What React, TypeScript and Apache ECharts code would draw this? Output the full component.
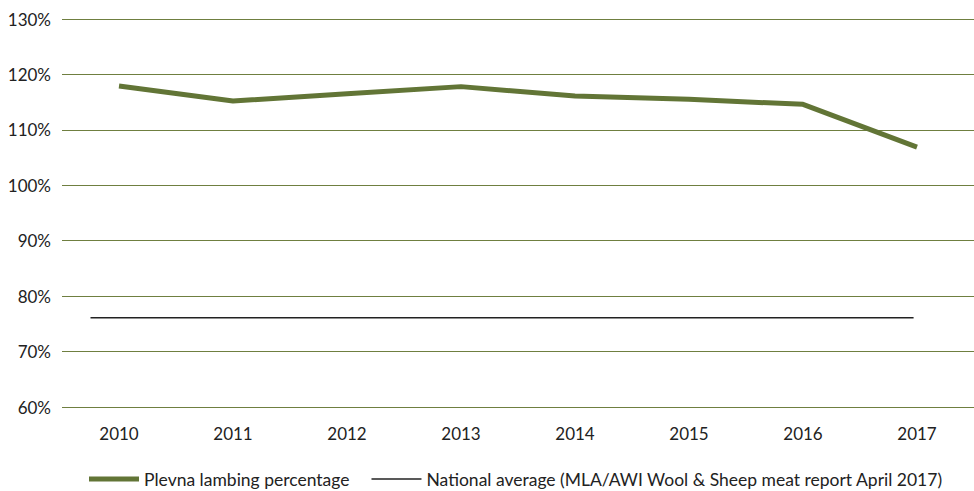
import React, { useEffect, useRef } from "react";
import * as echarts from "echarts";

const years = ["2010", "2011", "2012", "2013", "2014", "2015", "2016", "2017"];
const plevna = [117.9, 115.2, 116.5, 117.8, 116.1, 115.5, 114.6, 106.9];
// national average drawn on a hidden value axis spanning the category bands (0..8)
const nationalX = [0.25, 7.47];
const nationalValue = 76.1;
const yTicks = { min: 60, max: 130, interval: 10 };

const FONT = "Lato, 'Open Sans', sans-serif";

export default function App() {
  const ref = useRef<HTMLDivElement>(null);
  useEffect(() => {
    if (!ref.current) return;
    const chart = echarts.init(ref.current, null, { renderer: "svg" });
    chart.setOption({
      animation: false,
      textStyle: { fontFamily: FONT },
      grid: { left: 62, right: 0, top: 19, bottom: 84, containLabel: false },
      legend: {
        bottom: -2,
        left: 84,
        itemWidth: 50,
        itemHeight: 5,
        itemGap: 22,
        textStyle: { fontSize: 17.5, color: "#222", fontFamily: FONT },
        data: [
          { name: "Plevna lambing percentage", icon: "rect", itemStyle: { color: "#627536" } },
          { name: "National average (MLA/AWI Wool & Sheep meat report April 2017)", icon: "path://M0,0L50,0L50,1.6L0,1.6Z", itemStyle: { color: "#222" } },
        ],
      },
      xAxis: [
        {
          type: "category",
          data: years,
          boundaryGap: true,
          axisLine: { show: false },
          axisTick: { show: false },
          axisLabel: { fontSize: 17, color: "#222", margin: 18, fontFamily: FONT },
        },
        {
          type: "value",
          min: 0,
          max: 8,
          show: false,
        },
      ],
      yAxis: {
        type: "value",
        min: yTicks.min,
        max: yTicks.max,
        interval: yTicks.interval,
        axisLine: { show: false },
        axisTick: { show: false },
        axisLabel: {
          fontSize: 17,
          color: "#222",
          margin: 11,
          fontFamily: FONT,
          formatter: (v: number) => `${v}%`,
        },
        splitLine: { lineStyle: { color: "#6f7f40", width: 1 } },
      },
      series: [
        {
          name: "Plevna lambing percentage",
          type: "line",
          data: plevna,
          xAxisIndex: 0,
          symbol: "none",
          lineStyle: { color: "#627536", width: 5 },
          itemStyle: { color: "#627536" },
        },
        {
          name: "National average (MLA/AWI Wool & Sheep meat report April 2017)",
          type: "line",
          xAxisIndex: 1,
          data: nationalX.map((x) => [x, nationalValue]),
          symbol: "none",
          lineStyle: { color: "#222", width: 1.6 },
          itemStyle: { color: "#222" },
        },
      ],
    });
    return () => chart.dispose();
  }, []);
  return <div ref={ref} style={{ width: 974, height: 491, position: "absolute", left: 0, top: 0 }} />;
}
